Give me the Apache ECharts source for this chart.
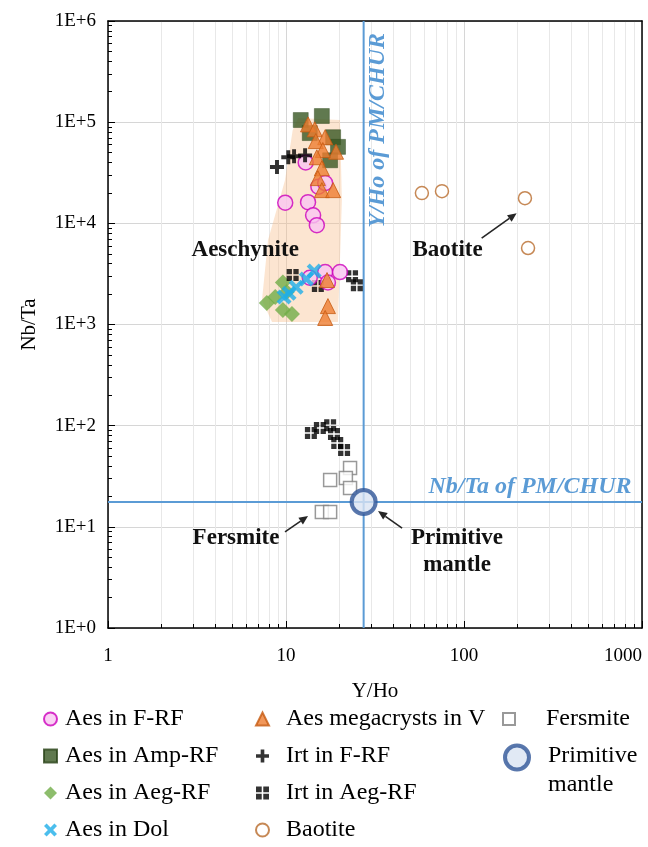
<!DOCTYPE html>
<html>
<head>
<meta charset="utf-8">
<script src="https://cdn.jsdelivr.net/npm/echarts@6/dist/echarts.min.js"></script>
<style>
  html, body { margin: 0; padding: 0; background: #ffffff; }
  #chart { width: 648px; height: 847px; }
</style>
</head>
<body>
<div id="chart"></div>
<script>
// Y/Ho vs Nb/Ta, both on log scales
const SERIF = '"Liberation Serif", "Times New Roman", serif';

// Aeschynite in fenite / rheomorphic fenite
const aesFRF = [[9.9, 1.6e4], [13.3, 1.62e4], [14.2, 1.2e4], [14.9, 9.6e3], [12.9, 4.0e4],
  [15.2, 2.3e4], [16.6, 2.5e4], [13.6, 2.9e3], [16.6, 3.3e3], [20.1, 3.3e3], [17.2, 2.6e3]];
// Aeschynite in amphibole rheomorphic fenite
const aesAmp = [[12.1, 1.05e5], [15.9, 1.15e5], [13.6, 7.8e4], [18.4, 7.1e4], [19.6, 5.7e4], [17.7, 4.2e4]];
// Aeschynite in aegirine rheomorphic fenite
const aesAeg = [[7.8, 1.63e3], [8.7, 1.87e3], [9.6, 2.6e3], [9.6, 1.39e3], [10.8, 1.27e3], [10.1, 2.09e3]];
// Aeschynite in dolomite carbonatite
const aesDol = [[14.4, 3.37e3], [13.0, 2.81e3], [11.4, 2.34e3], [10.4, 2.04e3], [9.75, 1.87e3]];
// Aeschynite megacrysts in veins
const aesMeg = [[13.3, 9.5e4], [14.5, 8.5e4], [16.6, 7.1e4], [14.7, 6.5e4], [19.1, 5.1e4], [16.1, 5.3e4],
  [14.9, 4.5e4], [15.9, 3.5e4], [15.1, 2.8e4], [15.9, 2.13e4], [18.4, 2.13e4], [17.0, 2.75e3],
  [17.2, 1.52e3], [16.6, 1.16e3]];
// Iraqite
const irtFRF = [[8.9, 3.6e4], [10.3, 4.5e4], [11.1, 4.6e4], [12.8, 4.7e4]];
const irtAeg = [[10.9, 3.08e3], [15.1, 2.4e3], [23.5, 3.0e3], [25.0, 2.45e3], [13.8, 84.5], [15.5, 94.7],
  [17.7, 101], [18.6, 82.6], [19.4, 67.3], [21.2, 57.4]];
const fersmite = [[17.7, 29], [22.9, 38.1], [21.7, 30.4], [22.9, 24.2], [15.9, 14.0], [17.7, 14.0]];
const baotite = [[58, 1.99e4], [75.2, 2.08e4], [220, 1.77e4], [229, 5.7e3]];
const primitiveMantle = [[27.3, 17.6]];

// Chondritic reference ratios
const pmYHo = 27.3;
const pmNbTa = 17.6;

// Outline of the aeschynite field
const aesField = [[11.7, 1.1e5], [20.1, 1.05e5], [20.6, 1.7e4], [19.6, 1.06e3], [8.35, 1.06e3],
  [7.33, 1.74e3], [7.92, 6.8e3], [9.87, 2.67e4], [10.9, 8.3e4]];

// Field labels and their anchor points
const labelText = ['Aeschynite', 'Baotite', 'Fersmite', 'Primitive\nmantle'];
const labelPos = [[5.9, 5.4e3], [80.8, 5.4e3], [5.24, 7.75], [91.4, 5.64]];
// Pointer arrows: [fromX, fromY, toX, toY]
const arrows = [[125.7, 7.14e3, 197.6, 1.26e4], [9.87, 8.9, 13.3, 12.8], [44.9, 9.73, 32.9, 14.3]];
// Reference line captions
const refText = ['Y/Ho of PM/CHUR', 'Nb/Ta of PM/CHUR'];
const refPos = [[32.9, 8.3e4], [235, 24.7]];

const xTicks = [1, 10, 100, 1000];
const yTicks = ['1E+0', '1E+1', '1E+2', '1E+3', '1E+4', '1E+5', '1E+6'];

const PLUS = 'path://M3.6,0 H6.4 V3.6 H10 V6.4 H6.4 V10 H3.6 V6.4 H0 V3.6 H3.6 Z';
const CROSS = 'path://M2,0 L5,3 L8,0 L10,2 L7,5 L10,8 L8,10 L5,7 L2,10 L0,8 L3,5 L0,2 Z';
const QUAD = 'path://M0,0 H4.4 V4.4 H0 Z M5.6,0 H10 V4.4 H5.6 Z M0,5.6 H4.4 V10 H0 Z M5.6,5.6 H10 V10 H5.6 Z';
// legend ring sitting at the top of a taller box, so it lines up with the first text line
const PM_ICON = 'path://M0,12 A12,12 0 1,1 24,12 A12,12 0 1,1 0,12 Z M0,49';

const chart = echarts.init(document.getElementById('chart'), null, { renderer: 'canvas' });

function scatter(name, data, symbol, size, itemStyle, z) {
  return { type: 'scatter', name, data, symbol, symbolSize: size, itemStyle, z: z || 3 };
}

// legend text with an adjustable gap after the icon
function legendTextStyle(gap, extra) {
  return Object.assign({
    fontFamily: SERIF, fontSize: 24, color: '#000',
    rich: { g: { fontFamily: SERIF, fontSize: 24, color: '#000', padding: [0, 0, 0, gap] } }
  }, extra || {});
}
const legendBase = {
  orient: 'vertical', itemWidth: 13, itemHeight: 13, itemGap: 13,
  padding: 0, selectedMode: false,
  formatter: name => '{g|' + name + '}'
};

const option = {
  animation: false,
  backgroundColor: '#ffffff',
  grid: { left: 108, right: 6, top: 21, bottom: 219, outerBoundsMode: 'none', containLabel: false },
  xAxis: [{
    type: 'log', logBase: 10, min: xTicks[0], max: xTicks[xTicks.length - 1],
    name: 'Y/Ho', nameLocation: 'middle', nameGap: 53,
    nameTextStyle: { fontFamily: SERIF, fontSize: 21, color: '#000' },
    axisLine: { lineStyle: { color: '#000', width: 1.5 } },
    axisTick: { inside: true, length: 7, lineStyle: { color: '#000' } },
    minorTick: { show: true, splitNumber: 9, length: 4, lineStyle: { color: '#000' } },
    axisLabel: {
      fontFamily: SERIF, fontSize: 19, color: '#000', margin: 19, alignMaxLabel: 'right',
      formatter: v => String(v)
    },
    splitLine: { show: true, lineStyle: { color: '#d6d6d6', width: 1 } },
    minorSplitLine: { show: true, lineStyle: { color: '#e8e8e8', width: 1 } }
  }, {
    type: 'log', logBase: 10, min: xTicks[0], max: xTicks[xTicks.length - 1], position: 'top',
    axisLine: { lineStyle: { color: '#000', width: 1.5 } },
    axisTick: { show: false }, axisLabel: { show: false }, splitLine: { show: false }
  }],
  yAxis: [{
    type: 'log', logBase: 10, min: 1, max: 1e6,
    name: 'Nb/Ta', nameLocation: 'middle', nameGap: 68,
    nameTextStyle: { fontFamily: SERIF, fontSize: 21, color: '#000' },
    axisLine: { lineStyle: { color: '#000', width: 1.5 } },
    axisTick: { inside: true, length: 7, lineStyle: { color: '#000' } },
    minorTick: { show: true, splitNumber: 9, length: 4, lineStyle: { color: '#000' } },
    axisLabel: {
      fontFamily: SERIF, fontSize: 19, color: '#000', margin: 12,
      formatter: v => yTicks[Math.round(Math.log10(v))]
    },
    splitLine: { show: true, lineStyle: { color: '#d6d6d6', width: 1 } }
  }, {
    type: 'log', logBase: 10, min: 1, max: 1e6, position: 'right',
    axisLine: { lineStyle: { color: '#000', width: 1.5 } },
    axisTick: { show: false }, axisLabel: { show: false }, splitLine: { show: false }
  }],
  legend: [
    Object.assign({}, legendBase, { left: 43, top: 707, textStyle: legendTextStyle(3),
      data: ['Aes in F-RF', 'Aes in Amp-RF', 'Aes in Aeg-RF', 'Aes in Dol'] }),
    Object.assign({}, legendBase, { left: 255, top: 707, textStyle: legendTextStyle(12),
      data: ['Aes megacrysts in V', 'Irt in F-RF', 'Irt in Aeg-RF', 'Baotite'] }),
    Object.assign({}, legendBase, { left: 502, top: 707, itemWidth: 12, itemHeight: 12,
      textStyle: legendTextStyle(26),
      data: ['Fersmite'] }),
    Object.assign({}, legendBase, { left: 503, top: 741, itemWidth: 24, itemHeight: 49,
      itemStyle: { borderWidth: 4 },
      formatter: () => '{g|Primitive}\n{g|mantle}',
      textStyle: legendTextStyle(14, { lineHeight: 29 }),
      data: [{ name: 'Primitive mantle', icon: PM_ICON }] })
  ],
  series: [
    {
      type: 'custom', name: 'field', silent: true, z: 1,
      data: aesField,
      renderItem: (params, api) => {
        if (params.dataIndex !== 0) return null;
        return {
          type: 'polygon',
          shape: { points: aesField.map(p => api.coord(p)) },
          style: { fill: 'rgba(247,190,140,0.4)' }
        };
      }
    },
    {
      type: 'line', name: 'Y/Ho PM', data: [[pmYHo, 1], [pmYHo, 1e6]], symbol: 'none', silent: true, z: 2,
      lineStyle: { color: '#5b9bd5', width: 2 }
    },
    {
      type: 'line', name: 'Nb/Ta PM', data: [[1, pmNbTa], [1000, pmNbTa]], symbol: 'none', silent: true, z: 2,
      lineStyle: { color: '#5b9bd5', width: 2 }
    },
    scatter('Aes in Aeg-RF', aesAeg, 'diamond', 16, { color: '#70ad47' }),
    scatter('Irt in Aeg-RF', irtAeg, QUAD, 12, { color: '#000' }),
    scatter('Aes in F-RF', aesFRF, 'circle', 15, { color: '#f9c6f1', borderColor: '#cc00bb', borderWidth: 1.5 }),
    scatter('Aes in Dol', aesDol, CROSS, 15, { color: '#1eaee8' }),
    scatter('Aes in Amp-RF', aesAmp, 'rect', 15, { color: '#385723', borderColor: '#2a4419', borderWidth: 0.5 }),
    scatter('Aes megacrysts in V', aesMeg, 'triangle', 15, { color: '#ed7d31', borderColor: '#c55a11', borderWidth: 1 }),
    scatter('Irt in F-RF', irtFRF, PLUS, 14, { color: '#000' }),
    scatter('Fersmite', fersmite, 'rect', 13, { color: '#ffffff', borderColor: '#7f7f7f', borderWidth: 1.5 }),
    scatter('Baotite', baotite, 'circle', 13, { color: '#ffffff', borderColor: '#b86a2b', borderWidth: 1.5 }),
    scatter('Primitive mantle', primitiveMantle, 'circle', 24, { color: '#dae3f3', borderColor: '#2f5597', borderWidth: 4 }, 5),
    {
      type: 'custom', name: 'arrows', silent: true, z: 6,
      data: arrows,
      renderItem: (params, api) => {
        const a = api.coord([api.value(0), api.value(1)]);
        const b = api.coord([api.value(2), api.value(3)]);
        const ang = Math.atan2(b[1] - a[1], b[0] - a[0]);
        const L = 9, W = 4;
        const bx = b[0] - L * Math.cos(ang), by = b[1] - L * Math.sin(ang);
        return {
          type: 'group',
          children: [
            { type: 'line', shape: { x1: a[0], y1: a[1], x2: bx, y2: by },
              style: { stroke: '#262626', lineWidth: 1.6 } },
            { type: 'polygon', shape: { points: [b,
                [bx + W * Math.sin(ang), by - W * Math.cos(ang)],
                [bx - W * Math.sin(ang), by + W * Math.cos(ang)]] },
              style: { fill: '#262626' } }
          ]
        };
      }
    },
    {
      type: 'custom', name: 'labels', silent: true, z: 6,
      data: labelPos,
      renderItem: (params, api) => {
        const p = api.coord([api.value(0), api.value(1)]);
        return {
          type: 'text', x: p[0], y: p[1],
          style: {
            text: labelText[params.dataIndex], fill: '#111',
            fontFamily: SERIF, fontSize: 23, fontWeight: 'bold',
            align: 'center', verticalAlign: 'middle', lineHeight: 27
          }
        };
      }
    },
    {
      type: 'custom', name: 'refLabels', silent: true, z: 6,
      data: refPos,
      renderItem: (params, api) => {
        const p = api.coord([api.value(0), api.value(1)]);
        return {
          type: 'text', x: p[0], y: p[1], rotation: params.dataIndex === 0 ? Math.PI / 2 : 0,
          style: {
            text: refText[params.dataIndex], fill: '#5b9bd5',
            fontFamily: SERIF, fontSize: 24, fontWeight: 'bold', fontStyle: 'italic',
            align: 'center', verticalAlign: 'middle'
          }
        };
      }
    }
  ]
};

chart.setOption(option);
</script>
</body>
</html>
